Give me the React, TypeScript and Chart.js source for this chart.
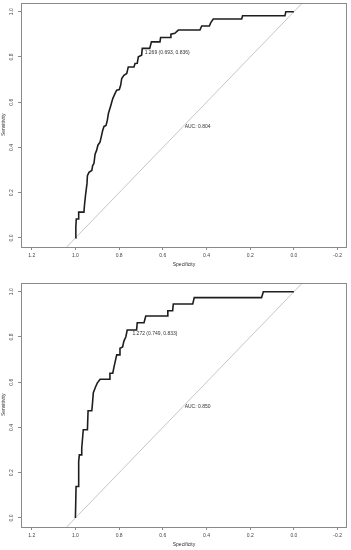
import React, { useEffect, useRef } from "react";
import { Chart, registerables } from "chart.js";
Chart.register(...registerables);

const X_TICKS = [1.2, 1.0, 0.8, 0.6, 0.4, 0.2, 0.0, -0.2];
const Y_TICKS = [0.0, 0.2, 0.4, 0.6, 0.8, 1.0];

const DIAG_SPEC = [1.04, -0.04];
const DIAG_SENS = [-0.04, 1.04];

const ROC1_SPEC = [
  1.0, 0.998, 0.996, 0.985, 0.985, 0.961, 0.958, 0.953, 0.947, 0.945, 0.938, 0.925, 0.921, 0.915,
  0.91, 0.903, 0.897, 0.887, 0.881, 0.875, 0.869, 0.86, 0.854, 0.849, 0.839, 0.829, 0.819, 0.811,
  0.799, 0.793, 0.788, 0.778, 0.765, 0.758, 0.732, 0.727, 0.717, 0.712, 0.697, 0.694, 0.66, 0.652,
  0.613, 0.61, 0.567, 0.563, 0.545, 0.529, 0.43, 0.422, 0.387, 0.381, 0.369, 0.239, 0.235, 0.041,
  0.037, 0.0,
];
const ROC1_SENS = [
  0.0, 0.05, 0.084, 0.084, 0.114, 0.114, 0.15, 0.195, 0.24, 0.275, 0.29, 0.298, 0.32, 0.33,
  0.37, 0.387, 0.41, 0.424, 0.45, 0.476, 0.493, 0.497, 0.52, 0.55, 0.582, 0.616, 0.638, 0.653,
  0.656, 0.675, 0.705, 0.719, 0.727, 0.756, 0.756, 0.771, 0.772, 0.801, 0.808, 0.838, 0.838, 0.867,
  0.867, 0.886, 0.886, 0.901, 0.905, 0.919, 0.919, 0.937, 0.937, 0.951, 0.968, 0.968, 0.982, 0.982,
  1.0, 1.0,
];

const ROC2_SPEC = [
  1.0, 0.997, 0.988, 0.985, 0.982, 0.973, 0.971, 0.964, 0.945, 0.942, 0.925, 0.922, 0.918, 0.907,
  0.9, 0.887, 0.845, 0.842, 0.829, 0.823, 0.811, 0.8, 0.796, 0.784, 0.778, 0.769, 0.763, 0.72,
  0.717, 0.686, 0.678, 0.58, 0.577, 0.555, 0.552, 0.463, 0.456, 0.148, 0.14, 0.0,
];
const ROC2_SENS = [
  0.0, 0.139, 0.139, 0.25, 0.279, 0.279, 0.309, 0.39, 0.39, 0.474, 0.474, 0.504, 0.554, 0.581,
  0.596, 0.613, 0.613, 0.64, 0.64, 0.669, 0.721, 0.721, 0.75, 0.756, 0.782, 0.801, 0.831, 0.831,
  0.863, 0.863, 0.893, 0.893, 0.916, 0.916, 0.946, 0.946, 0.974, 0.974, 1.0, 1.0,
];

const THRES1_LABEL = "1.269 (0.693, 0.836)";
const THRES1_POINT = [0.693, 0.836];
const AUC1_LABEL = "AUC: 0.804";
const THRES2_LABEL = "1.272 (0.749, 0.833)";
const THRES2_POINT = [0.749, 0.833];
const AUC2_LABEL = "AUC: 0.850";

const FONT = "'Liberation Sans', Arial, sans-serif";
const FRAME = "#8a8a8a";

const framePlugin = {
  id: "rocFrame",
  afterDatasetsDraw(chart: any, _args: any, opts: any) {
    const { ctx, chartArea: a, scales } = chart;
    const xs = scales.x;
    const ys = scales.y;
    ctx.save();
    ctx.strokeStyle = FRAME;
    ctx.lineWidth = 1;
    ctx.strokeRect(
      Math.round(a.left) + 0.5,
      Math.round(a.top) + 0.5,
      Math.round(a.right) - Math.round(a.left) - 1,
      Math.round(a.bottom) - Math.round(a.top)
    );
    ctx.fillStyle = "#333";
    ctx.font = `5px ${FONT}`;
    ctx.textBaseline = "middle";
    ctx.textAlign = "left";
    const tx = xs.getPixelForValue(opts.thresPoint[0] - 0.01);
    const ty = ys.getPixelForValue(opts.thresPoint[1] - 0.016);
    ctx.fillText(opts.thresLabel, tx, ty);
    ctx.fillText(opts.aucLabel, xs.getPixelForValue(0.5), ys.getPixelForValue(0.49));
    ctx.restore();
  },
};

type Props = {
  spec: number[];
  sens: number[];
  thresLabel: string;
  thresPoint: number[];
  aucLabel: string;
  top: number;
};

function RocChart({ spec, sens, thresLabel, thresPoint, aucLabel, top }: Props) {
  const ref = useRef<HTMLCanvasElement>(null);
  useEffect(() => {
    const chart = new Chart(ref.current as HTMLCanvasElement, {
      type: "line",
      data: {
        datasets: [
          {
            data: spec.map((s, i) => ({ x: s, y: sens[i] })),
            borderColor: "#1e1e1e",
            borderWidth: 1.6,
            pointRadius: 0,
            tension: 0,
            fill: false,
          },
          {
            data: DIAG_SPEC.map((s, i) => ({ x: s, y: DIAG_SENS[i] })),
            borderColor: "#c6c6c6",
            borderWidth: 1,
            pointRadius: 0,
            fill: false,
          },
        ],
      },
      options: {
        animation: false,
        responsive: false,
        events: [],
        layout: { padding: { top: 7.7, right: 4, left: 0, bottom: 0 } },
        plugins: {
          legend: { display: false },
          tooltip: { enabled: false },
          rocFrame: { thresLabel, thresPoint, aucLabel },
        } as any,
        scales: {
          x: {
            type: "linear",
            reverse: true,
            min: -0.243,
            max: 1.249,
            afterBuildTicks: (s: any) => {
              s.ticks = X_TICKS.map((v) => ({ value: v }));
            },
            afterFit: (s: any) => {
              s.height = 28;
            },
            ticks: {
              callback: (v: any) => Number(v).toFixed(1),
              font: { family: FONT, size: 5 },
              color: "#444",
              padding: 3,
              maxRotation: 0,
              autoSkip: false,
            },
            grid: { drawOnChartArea: false, drawTicks: true, tickLength: 3, color: FRAME },
            border: { display: false },
            title: {
              display: true,
              text: "Specificity",
              font: { family: FONT, size: 5 },
              color: "#333",
              padding: { top: 0, bottom: 7.5 },
            },
          },
          y: {
            type: "linear",
            min: -0.04,
            max: 1.04,
            afterBuildTicks: (s: any) => {
              s.ticks = Y_TICKS.map((v) => ({ value: v }));
            },
            afterFit: (s: any) => {
              s.width = 21;
            },
            ticks: {
              callback: (v: any) => Number(v).toFixed(1),
              font: { family: FONT, size: 5 },
              color: "#444",
              padding: 2.5,
              minRotation: 90,
              maxRotation: 90,
              crossAlign: "center",
              autoSkip: false,
            },
            grid: { drawOnChartArea: false, drawTicks: true, tickLength: 3, color: FRAME },
            border: { display: false },
            title: {
              display: true,
              text: "Sensitivity",
              font: { family: FONT, size: 5 },
              color: "#333",
              padding: { top: 1, bottom: 0 },
            },
          },
        },
      },
      plugins: [framePlugin],
    } as any);
    return () => chart.destroy();
  }, []);
  return (
    <canvas
      ref={ref}
      width={351}
      height={280}
      style={{ position: "absolute", left: 0, top, width: 351, height: 280, display: "block" }}
    />
  );
}

export default function App() {
  return (
    <div style={{ position: "relative", width: 351, height: 550, overflow: "hidden", background: "#fff" }}>
      <style>{`body{margin:0;background:#fff;}`}</style>
      <RocChart
        spec={ROC1_SPEC}
        sens={ROC1_SENS}
        thresLabel={THRES1_LABEL}
        thresPoint={THRES1_POINT}
        aucLabel={AUC1_LABEL}
        top={-5}
      />
      <RocChart
        spec={ROC2_SPEC}
        sens={ROC2_SENS}
        thresLabel={THRES2_LABEL}
        thresPoint={THRES2_POINT}
        aucLabel={AUC2_LABEL}
        top={275}
      />
    </div>
  );
}
